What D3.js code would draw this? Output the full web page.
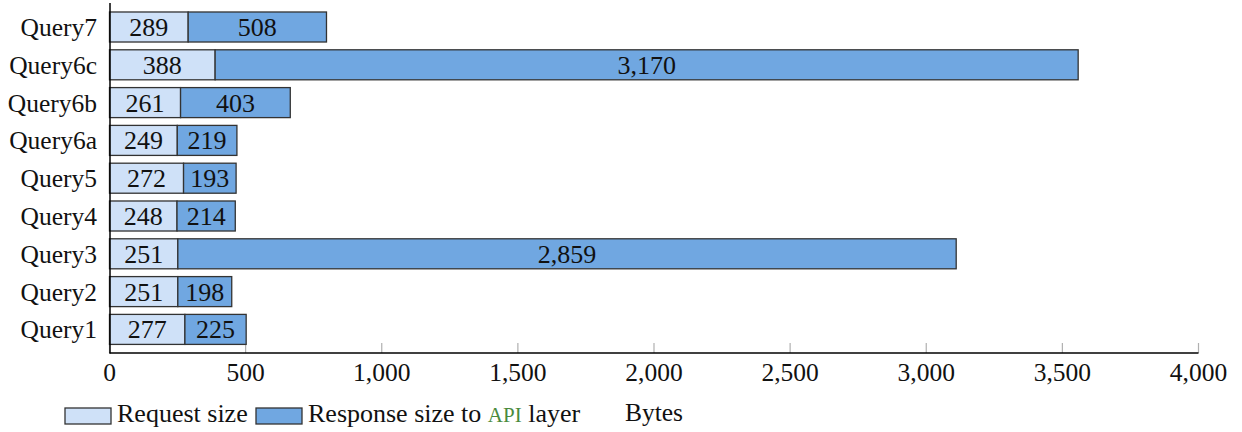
<!DOCTYPE html>
<html><head><meta charset="utf-8">
<script src="https://cdn.jsdelivr.net/npm/d3@7"></script>
<style>body{margin:0;background:#fff}</style>
</head><body><svg id="c" width="1242" height="432" font-family="Liberation Serif"></svg>
<script>
const categories = ["Query1","Query2","Query3","Query4","Query5","Query6a","Query6b","Query6c","Query7"];
const requestSize = [277,251,251,248,272,249,261,388,289];
const responseSize = [225,198,2859,214,193,219,403,3170,508];
const xTicks = [0,500,1000,1500,2000,2500,3000,3500,4000];
const seriesNames = ["Request size","Response size to "];

const svg = d3.select("#c");
const x = d3.scaleLinear().domain([0,4000]).range([109.5,1198.5]);
const y = d3.scaleBand().domain(categories.slice().reverse()).range([8.1,348.3]).paddingInner(0.206).paddingOuter(0.103);
const fmt = d3.format(",");
const light = "#cfe1f8", dark = "#70a7e1", stroke = "#333";
const FF = "Liberation Serif", ink = "#111";

svg.append("g").selectAll("line").data(xTicks).join("line")
  .attr("x1",d=>x(d)).attr("x2",d=>x(d)).attr("y1",343).attr("y2",353)
  .attr("stroke","#b0b0b0").attr("stroke-width",1.2);

const rows = svg.append("g").selectAll("g").data(categories).join("g");
rows.append("rect").attr("x",x(0)).attr("y",d=>y(d))
  .attr("width",(d,i)=>x(requestSize[i])-x(0)).attr("height",y.bandwidth())
  .attr("fill",light).attr("stroke",stroke).attr("stroke-width",1.3);
rows.append("rect").attr("x",(d,i)=>x(requestSize[i])).attr("y",d=>y(d))
  .attr("width",(d,i)=>x(requestSize[i]+responseSize[i])-x(requestSize[i])).attr("height",y.bandwidth())
  .attr("fill",dark).attr("stroke",stroke).attr("stroke-width",1.3);
rows.append("text").attr("x",(d,i)=>(x(0)+x(requestSize[i]))/2).attr("y",d=>y(d)+y.bandwidth()/2+9)
  .attr("text-anchor","middle").attr("font-family",FF).attr("fill",ink).attr("font-size",26).text((d,i)=>fmt(requestSize[i]));
rows.append("text").attr("x",(d,i)=>(x(requestSize[i])+x(requestSize[i]+responseSize[i]))/2).attr("y",d=>y(d)+y.bandwidth()/2+9)
  .attr("text-anchor","middle").attr("font-family",FF).attr("fill",ink).attr("font-size",26).text((d,i)=>fmt(responseSize[i]));
rows.append("text").attr("x",97).attr("y",d=>y(d)+y.bandwidth()/2+9)
  .attr("text-anchor","end").attr("font-family",FF).attr("fill",ink).attr("font-size",25.5).text(d=>d);

svg.append("line").attr("x1",110).attr("x2",110).attr("y1",3).attr("y2",353.5).attr("stroke","#000").attr("stroke-width",1.5);
svg.append("line").attr("x1",109.5).attr("x2",x(4000)).attr("y1",353).attr("y2",353).attr("stroke","#000").attr("stroke-width",1.5);

svg.append("g").selectAll("text").data(xTicks).join("text")
  .attr("x",d=>x(d)).attr("y",381).attr("text-anchor","middle").attr("font-family",FF).attr("fill",ink).attr("font-size",25.5).text(d=>fmt(d));

svg.append("text").attr("x",(x(0)+x(4000))/2).attr("y",421).attr("text-anchor","middle").attr("font-family",FF).attr("fill",ink).attr("font-size",25.5).text("Bytes");

const lg = svg.append("g");
lg.append("rect").attr("x",65).attr("y",408).attr("width",46).attr("height",16).attr("fill",light).attr("stroke",stroke).attr("stroke-width",1.3);
lg.append("text").attr("x",117).attr("y",422).attr("font-family",FF).attr("fill",ink).attr("font-size",26).text(seriesNames[0]);
lg.append("rect").attr("x",256).attr("y",408).attr("width",46).attr("height",16).attr("fill",dark).attr("stroke",stroke).attr("stroke-width",1.3);
const t2 = lg.append("text").attr("x",308).attr("y",422).attr("font-family",FF).attr("fill",ink).attr("font-size",26);
t2.append("tspan").text(seriesNames[1]);
t2.append("tspan").attr("font-size",21).attr("fill","#4a8a3c").text("API");
t2.append("tspan").text(" layer");
</script></body></html>
